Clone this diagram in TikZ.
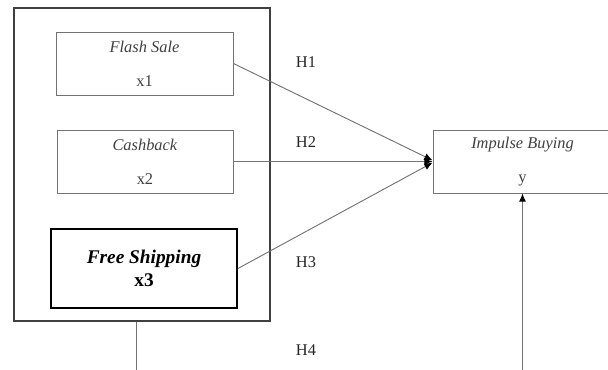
\documentclass[tikz,border=0pt]{standalone}
\usepackage{fontspec}
\setmainfont{Liberation Serif}
\usetikzlibrary{arrows.meta}
\tikzset{
  varbox/.style={draw=black!55, line width=0.8pt, align=center, text=black!75,
    font=\fontsize{14}{17}\selectfont, inner sep=0pt},
  hlabel/.style={font=\fontsize{14}{17}\selectfont, text=black!85},
  link/.style={draw=black!55, line width=0.8pt}
}
\begin{document}
\begin{tikzpicture}[x=0.3mm, y=-0.3mm, >={Latex[length=7pt,width=6pt,black]}]
		\useasboundingbox (0,0) rectangle (608,370);
		% Variable boxes
		\node[draw=black!75, line width=1pt, minimum width=76.8mm, minimum height=93.9mm] (group) at (142,164.5) {};
		\node[varbox, minimum width=53.1mm, minimum height=18.9mm] (flash) at (144.5,63.5) {\textit{Flash Sale}\\[12pt] x1};
		\node[varbox, minimum width=52.8mm, minimum height=18.9mm] (cash) at (145,161.5) {\textit{Cashback}\\[12pt] x2};
		\node[varbox, draw=black, text=black, line width=1.6pt, minimum width=55.8mm, minimum height=23.7mm,
		  font=\fontsize{16.5}{19}\selectfont\bfseries] (ship) at (144,268.5) {\textit{Free Shipping}\\ x3};
		\node[varbox, minimum width=53.7mm, minimum height=18.9mm] (impulse) at (522.5,161.5) {\textit{Impulse Buying}\\[12pt] y};
		
		% Hypothesis labels
		\node[hlabel] (h1) at (306,62) {H1};
		\node[hlabel] (h2) at (306,142) {H2};
		\node[hlabel] (h3) at (306,262) {H3};
		\node[hlabel] (h4) at (306,350) {H4};
		
		% Free ends below the picture
		\coordinate (groupend) at (136,375);
		\coordinate (impend) at (impulse.south |- 0,375);
		
		% Edges
		\draw[link, ->] (flash.east) -- ([yshift=1pt]impulse.west);
		\draw[link, ->] (cash.east) -- (impulse.west);
		\draw[link, ->] (ship.east) -- ([yshift=-1pt]impulse.west);
		\draw[link] (group.south -| groupend) -- (groupend);
		\draw[link, ->] (impend) -- (impulse.south);
		
	\end{tikzpicture}
\end{document}
